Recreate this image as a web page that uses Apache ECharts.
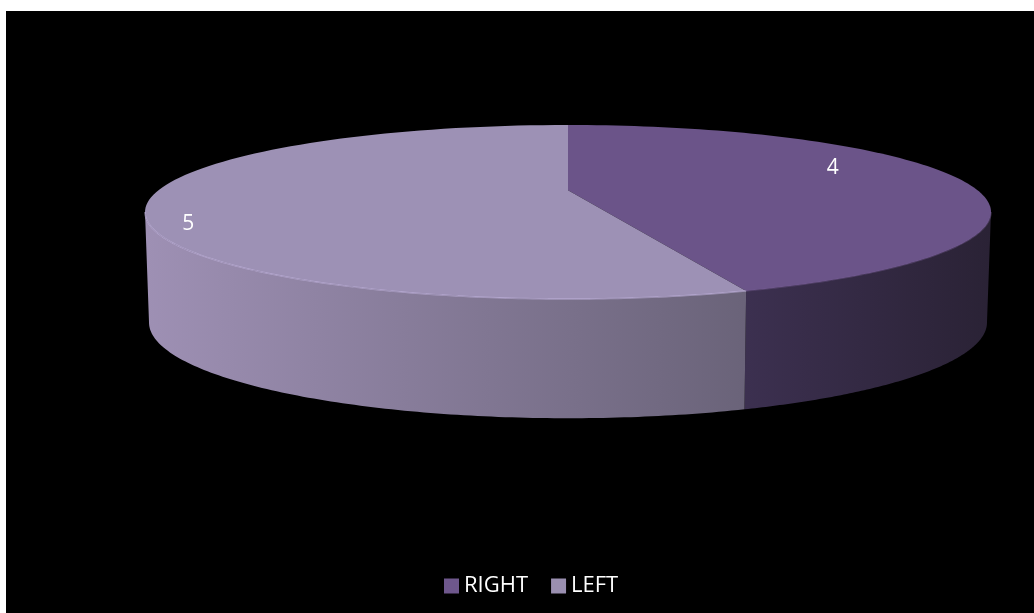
<!DOCTYPE html>
<html>
<head>
<meta charset="utf-8">
<style>
  html, body { margin: 0; padding: 0; background: #ffffff; width: 1034px; height: 613px; overflow: hidden; }
  #chart { position: absolute; left: 6px; top: 11px; width: 1028px; height: 602px; background: #000; }
</style>
<script src="https://cdn.jsdelivr.net/npm/echarts@6/dist/echarts.min.js"></script>
</head>
<body>
<div id="chart"></div>
<script>
// ---- data ----
const categories = ['RIGHT', 'LEFT'];
const values = [4, 5];

// ---- styling (not data) ----
const topColors = ['#6b5489', '#9d91b5'];
const wallStops = [['#3c3050', '#2a2235'], ['#9e90b4', '#6a6379']];
const legendColors = ['#6e578c', '#9a8fb0'];
const labelAt = [[0.626, 0.506], [-0.898, -0.14]]; // label anchor in unit-ellipse coords
const APEX = 0.25;              // perspective apex offset (unit coords)
const BOT = { cy: -1.27, rx: 0.9905, ry: 1.1 }; // bottom ellipse (unit coords)

const total = values.reduce((a, b) => a + b, 0);
const cum = [];
values.reduce((acc, v, i) => { cum[i] = acc; return acc + v; }, 0);

function paramAngle(theta) {
  const s = Math.sin(theta), c = Math.cos(theta);
  const t = -APEX * c + Math.sqrt(APEX * APEX * c * c - APEX * APEX + 1);
  const x = t * s, y = APEX + t * c;
  let phi = Math.atan2(x, y);
  if (phi < -1e-9) phi += Math.PI * 2;
  return phi;
}

function renderSlice(idx) {
  return function (params, api) {
    const th0 = cum[idx] / total * Math.PI * 2;
    const th1 = (cum[idx] + values[idx]) / total * Math.PI * 2;
    let p0 = paramAngle(th0), p1 = paramAngle(th1);
    if (idx === 0) p0 = 0;
    if (p1 <= p0 + 1e-6) p1 += Math.PI * 2;
    const N = 120;
    const children = [];
    const w0 = Math.max(p0, Math.PI / 2), w1 = Math.min(p1, Math.PI * 1.5);
    if (w1 > w0) {
      const pts = [];
      for (let k = 0; k <= N; k++) {
        const a = w0 + (w1 - w0) * k / N;
        pts.push(api.coord([Math.sin(a), Math.cos(a)]));
      }
      for (let k = N; k >= 0; k--) {
        const a = w0 + (w1 - w0) * k / N;
        pts.push(api.coord([BOT.rx * Math.sin(a), BOT.cy + BOT.ry * Math.cos(a)]));
      }
      children.push({
        type: 'polygon',
        shape: { points: pts },
        style: {
          fill: { type: 'linear', x: 0, y: 0, x2: 1, y2: 0,
            colorStops: [{ offset: 0, color: wallStops[idx][0] }, { offset: 1, color: wallStops[idx][1] }] },
          stroke: null
        }
      });
    }
    const top = [api.coord([0, APEX])];
    for (let k = 0; k <= N; k++) {
      const a = p0 + (p1 - p0) * k / N;
      top.push(api.coord([Math.sin(a), Math.cos(a)]));
    }
    children.push({ type: 'polygon', shape: { points: top }, style: { fill: topColors[idx], stroke: null } });
    if (w1 > w0) {
      const edge = [];
      for (let k = 0; k <= N; k++) {
        const a = w0 + (w1 - w0) * k / N;
        edge.push(api.coord([Math.sin(a), Math.cos(a)]));
      }
      children.push({ type: 'polyline', shape: { points: edge },
        style: { stroke: idx === 1 ? 'rgba(200,185,230,0.55)' : 'rgba(120,95,150,0.4)', lineWidth: 1.5, fill: null } });
    }
    const lp = api.coord(labelAt[idx]);
    children.push({
      type: 'text',
      style: { text: String(values[idx]), x: lp[0], y: lp[1], fill: '#ffffff',
        font: '21px "Open Sans", sans-serif', align: 'center', verticalAlign: 'middle' }
    });
    return { type: 'group', children };
  };
}

const chart = echarts.init(document.getElementById('chart'), null, { renderer: 'canvas' });
chart.setOption({
  backgroundColor: '#000000',
  animation: false,
  grid: { left: 139, top: 114, width: 846, height: 292, containLabel: false },
  xAxis: { type: 'value', min: -1, max: 1, show: false },
  yAxis: { type: 'value', min: -2.356, max: 1, show: false },
  legend: {
    data: categories,
    left: 433, top: 559,
    icon: 'rect', itemWidth: 15, itemHeight: 15, itemGap: 23,
    textStyle: { color: '#ffffff', fontSize: 22, fontFamily: 'Open Sans' }
  },
  series: categories.map((name, i) => ({
    type: 'custom',
    name: name,
    coordinateSystem: 'cartesian2d',
    itemStyle: { color: legendColors[i] },
    renderItem: renderSlice(i),
    data: [[0, values[i]]],
    silent: true
  }))
});
</script>
</body>
</html>
